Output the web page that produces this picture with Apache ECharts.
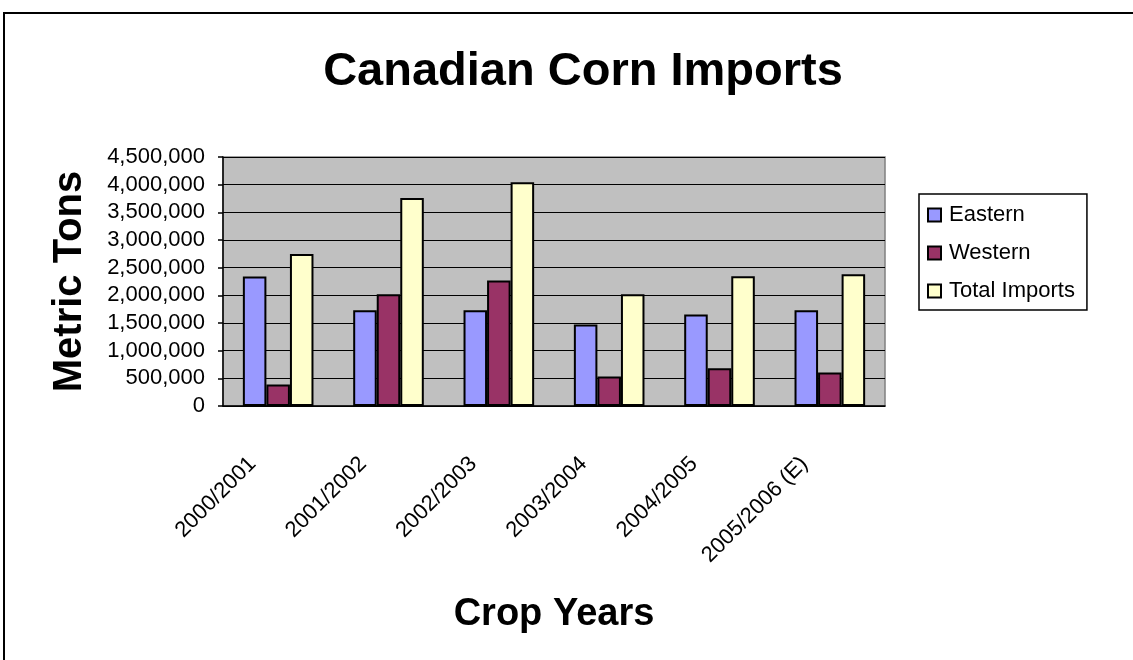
<!DOCTYPE html>
<html>
<head>
<meta charset="utf-8">
<title>Canadian Corn Imports</title>
<script src="https://cdn.jsdelivr.net/npm/echarts@6/dist/echarts.min.js"></script>
<style>
	html, body { margin: 0; padding: 0; background: #fff; }
	#chart { width: 1133px; height: 660px; }
</style>
</head>
<body>
<div id="chart"></div>
<script>
const cropYears = ['2000/2001', '2001/2002', '2002/2003', '2003/2004', '2004/2005', '2005/2006 (E)'];
const eastern = [2340000, 1730000, 1730000, 1475000, 1655000, 1730000];
const western = [390000, 2020000, 2270000, 535000, 680000, 605000];
const totalImports = [2745000, 3760000, 4045000, 2020000, 2345000, 2380000];

const font = '"Liberation Sans", Arial, sans-serif';
const thousandize = (v) => {
	let s = String(v);
	const d3 = /(\d+)(\d{3})/;
	while (d3.test(s)) {
		s = s.replace(d3, '$1,$2');
	}
	return s;
};
const bar = (name, data, color) => ({
	name: name,
	type: 'bar',
	data: data,
	barGap: '0%',
	barCategoryGap: '36%',
	itemStyle: {
		color: color,
		borderColor: '#000',
		borderWidth: 2,
	},
});

const chart = echarts.init(document.getElementById('chart'));
chart.setOption({
	animation: false,
	textStyle: { fontFamily: font },
	title: {
		text: 'Canadian Corn Imports',
		left: 578,
		top: 44,
		textAlign: 'center',
		textStyle: { fontFamily: font, fontSize: 47, fontWeight: 'bold', color: '#000' },
	},
	legend: {
		orient: 'vertical',
		left: 919,
		top: 194,
		padding: [10, 12, 8, 8],
		itemWidth: 13,
		itemHeight: 13,
		itemGap: 16,
		borderColor: '#000',
		borderWidth: 1.5,
		icon: 'rect',
		textStyle: { fontFamily: font, fontSize: 22, color: '#000', padding: [0, 0, 0, 3] },
	},
	grid: {
		left: 223,
		top: 157,
		right: 248,
		bottom: 254,
		show: true,
		backgroundColor: '#C0C0C0',
		borderColor: '#808080',
		borderWidth: 1.5,
	},
	xAxis: {
		type: 'category',
		data: cropYears,
		name: 'Crop Years',
		nameLocation: 'middle',
		nameGap: 190,
		nameTextStyle: { fontFamily: font, fontSize: 38, fontWeight: 'bold', color: '#000' },
		axisLine: { lineStyle: { color: '#000', width: 1.5 } },
		axisTick: { length: 5, lineStyle: { color: '#000', width: 1.5 } },
		axisLabel: {
			rotate: 45,
			margin: 29,
			padding: [0, 36, 0, 0],
			fontSize: 22,
			color: '#000',
		},
	},
	yAxis: {
		type: 'value',
		min: 0,
		max: 4500000,
		interval: 500000,
		name: 'Metric Tons',
		nameLocation: 'middle',
		nameGap: 133,
		nameTextStyle: { fontFamily: font, fontSize: 40, fontWeight: 'bold', color: '#000' },
		axisLine: { show: true, lineStyle: { color: '#000', width: 1.5 } },
		axisTick: { show: true, length: 5, lineStyle: { color: '#000', width: 1.5 } },
		axisLabel: {
			margin: 18,
			fontSize: 22,
			color: '#000',
			formatter: (v) => thousandize(v),
		},
		splitLine: { lineStyle: { color: '#000', width: 1 } },
	},
	graphic: [{
		type: 'rect',
		shape: { x: 4, y: 13, width: 1200, height: 700 },
		style: { fill: 'none', stroke: '#000', lineWidth: 2 },
		silent: true,
	}],
	series: [
		bar('Eastern', eastern, '#9999FF'),
		bar('Western', western, '#993366'),
		bar('Total Imports', totalImports, '#FFFFCC'),
	],
});
</script>
</body>
</html>
